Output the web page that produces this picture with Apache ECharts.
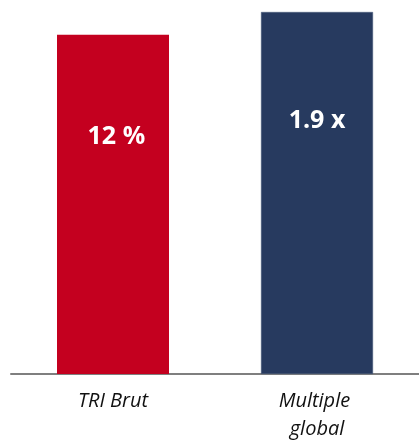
<!DOCTYPE html>
<html>
<head>
<meta charset="utf-8">
<script src="https://cdn.jsdelivr.net/npm/echarts@6/dist/echarts.min.js"></script>
<style>html,body{margin:0;padding:0;background:#fff}#c{width:419px;height:443px}</style>
</head>
<body>
<div id="c"></div>
<script>
const categories = ["TRI Brut", "Multiple global"];
const triValues = [12, "-"];
const multipleValues = ["-", 1.9];
const valueLabels = ["12 %", "1.9 x"];

const chart = echarts.init(document.getElementById('c'), null, {renderer: 'canvas'});
const labelStyle = (i, pos) => ({
  show: true,
  position: pos,
  align: 'center',
  verticalAlign: 'middle',
  color: '#ffffff',
  fontFamily: 'Open Sans',
  fontWeight: 'bold',
  fontSize: 25,
  formatter: () => valueLabels[i]
});
chart.setOption({
  animation: false,
  grid: {left: 11, right: -4, top: 12, bottom: 65, containLabel: false},
  xAxis: {
    type: 'category',
    data: categories,
    axisLine: {lineStyle: {color: '#7f7f7f', width: 2}},
    axisTick: {show: false},
    axisLabel: {
      fontFamily: 'Open Sans',
      fontStyle: 'italic',
      fontSize: 20,
      color: '#111111',
      margin: 13,
      lineHeight: 28,
      width: 110,
      overflow: 'break'
    }
  },
  yAxis: [
    {type: 'value', min: 0, max: 12.8, show: false},
    {type: 'value', min: 0, max: 1.9, show: false}
  ],
  series: [
    {
      type: 'bar', yAxisIndex: 0, data: triValues, barWidth: 112, barGap: '-100%',
      itemStyle: {color: '#C4001F'},
      label: labelStyle(0, ['53%', '30%'])
    },
    {
      type: 'bar', yAxisIndex: 1, data: multipleValues, barWidth: 112, barGap: '-100%',
      itemStyle: {color: '#273A5F', borderColor: '#46597a', borderWidth: 0.5},
      label: labelStyle(1, ['50%', '30%'])
    }
  ]
});
</script>
</body>
</html>
